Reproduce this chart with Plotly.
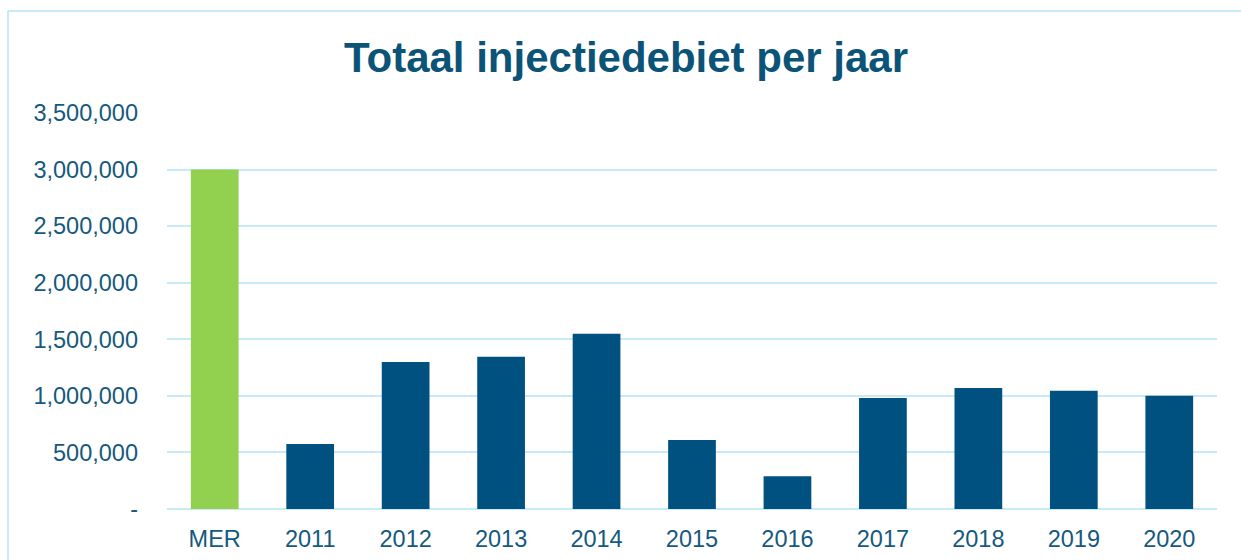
import plotly.graph_objects as go

categories = ["MER", "2011", "2012", "2013", "2014", "2015", "2016", "2017", "2018", "2019", "2020"]
values = [3000000, 575000, 1300000, 1345000, 1550000, 610000, 290000, 980000, 1070000, 1045000, 1000000]
bar_colors = ["#92D050"] + ["#005180"] * 10
tick_vals = [0, 500000, 1000000, 1500000, 2000000, 2500000, 3000000, 3500000]
tick_text = ["-", "500,000", "1,000,000", "1,500,000", "2,000,000", "2,500,000", "3,000,000", "3,500,000"]

W, H = 1241, 560
L, R, T, B = 167, 24, 113, 51
pw, ph = W - L - R, H - T - B

fig = go.Figure()
fig.add_trace(go.Bar(
    x=categories, y=values,
    marker=dict(color=bar_colors, line=dict(width=0)),
    width=0.5,
))

text_color = "#15597E"
grid_color = "#C6EAFA"

fig.update_layout(
    width=W, height=H,
    margin=dict(l=L, r=R, t=T, b=B),
    paper_bgcolor="white", plot_bgcolor="white",
    showlegend=False,
    title=dict(
        text="<b>Totaal injectiedebiet per jaar</b>",
        x=626 / W, xanchor="center", xref="container",
        y=1 - 57 / H, yanchor="middle", yref="container",
        font=dict(family="Liberation Sans, Arial", size=42, color="#0B5478"),
    ),
    font=dict(family="Liberation Sans, Arial", size=23.5, color=text_color),
    bargap=0.5,
)
fig.update_xaxes(
    showgrid=False, showline=False, zeroline=False, automargin=False,
    ticks="", ticklabelstandoff=13,
    tickfont=dict(size=23.5, color=text_color),
)
fig.update_yaxes(
    range=[0, 3500000], tickvals=tick_vals, ticktext=tick_text,
    showgrid=True, gridcolor=grid_color, gridwidth=2, automargin=False,
    zeroline=True, zerolinecolor=grid_color, zerolinewidth=2,
    showline=False, ticks="", ticklabelstandoff=28,
    tickfont=dict(size=23.5, color=text_color),
)

# chart frame (top and left edges visible)
x_left = (8 - L) / pw
y_top = (H - B - 11) / ph
fig.add_shape(type="line", xref="paper", yref="paper",
              x0=x_left, x1=(W + 5 - L) / pw, y0=y_top, y1=y_top,
              line=dict(color=grid_color, width=2))
fig.add_shape(type="line", xref="paper", yref="paper",
              x0=x_left, x1=x_left, y0=y_top, y1=-(B + 5) / ph,
              line=dict(color=grid_color, width=2))

fig.write_html(
    "out.html",
    config={"displayModeBar": False},
    post_script="document.body.style.margin='0';document.body.style.overflow='hidden';",
)
